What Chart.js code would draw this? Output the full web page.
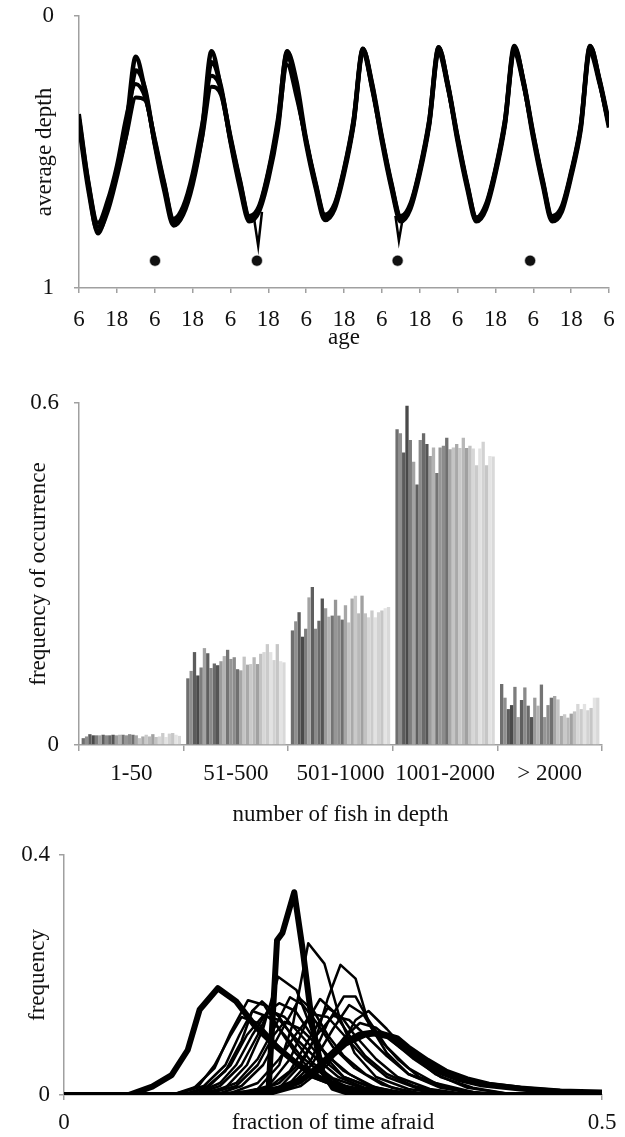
<!DOCTYPE html>
<html>
<head>
<meta charset="utf-8">
<title>Fish depth figure</title>
<script src="https://cdn.jsdelivr.net/npm/chart.js@4.4.1/dist/chart.umd.min.js"></script>
<style>
    html, body { margin: 0; padding: 0; background: #fff; }
    .panel { position: absolute; left: 0; width: 625px; }
    #depthPanel { top: 0; height: 352px; }
    #groupPanel { top: 352px; height: 483px; }
    #afraidPanel { top: 835px; height: 302px; }
</style>
</head>
<body>
<div class="panel" id="depthPanel"><canvas id="depthChart"></canvas></div>
<div class="panel" id="groupPanel"><canvas id="groupChart"></canvas></div>
<div class="panel" id="afraidPanel"><canvas id="afraidChart"></canvas></div>

<script>
// ---- Top panel: average depth against age (hours since 6:00) ----
const ageHours = [0, 3, 6, 9, 12, 15, 18, 21, 24, 27, 30, 33, 36, 39, 42, 45, 48, 51, 54, 57,
    60, 63, 66, 69, 72, 75, 78, 81, 84, 87, 90, 93, 96, 99, 102, 105, 108, 111, 114, 117,
    120, 123, 126, 129, 132, 135, 138, 141, 144, 147, 150, 153, 156, 159, 162, 165, 168];
const ageTicks = [6, 18];

const depthRunA = [0.38, 0.62, 0.775, 0.70, 0.57, 0.40, 0.15, 0.28, 0.46, 0.62, 0.755, 0.72, 0.60, 0.42, 0.13, 0.27, 0.45, 0.61, 0.745, 0.71,
    0.58, 0.40, 0.13, 0.28, 0.46, 0.62, 0.74, 0.70, 0.57, 0.39, 0.12, 0.27, 0.45, 0.62, 0.745, 0.70, 0.57, 0.39, 0.115, 0.26,
    0.45, 0.62, 0.745, 0.70, 0.57, 0.39, 0.11, 0.25, 0.44, 0.61, 0.745, 0.71, 0.58, 0.41, 0.11, 0.24, 0.40];
const depthRunB = [0.40, 0.64, 0.79, 0.72, 0.59, 0.43, 0.20, 0.27, 0.47, 0.64, 0.77, 0.73, 0.62, 0.44, 0.17, 0.26, 0.46, 0.63, 0.755, 0.72,
    0.60, 0.42, 0.15, 0.27, 0.47, 0.63, 0.75, 0.71, 0.58, 0.40, 0.13, 0.26, 0.46, 0.63, 0.755, 0.71, 0.58, 0.40, 0.13, 0.26,
    0.46, 0.63, 0.755, 0.71, 0.58, 0.40, 0.125, 0.25, 0.45, 0.62, 0.755, 0.72, 0.59, 0.42, 0.125, 0.24, 0.41];
const depthRunC = [0.36, 0.61, 0.76, 0.68, 0.55, 0.37, 0.25, 0.30, 0.45, 0.61, 0.745, 0.70, 0.58, 0.40, 0.22, 0.27, 0.44, 0.60, 0.735, 0.70,
    0.57, 0.38, 0.13, 0.24, 0.45, 0.61, 0.73, 0.69, 0.56, 0.38, 0.12, 0.25, 0.44, 0.61, 0.735, 0.69, 0.56, 0.38, 0.115, 0.25,
    0.44, 0.61, 0.74, 0.69, 0.56, 0.38, 0.115, 0.24, 0.43, 0.60, 0.735, 0.70, 0.57, 0.40, 0.11, 0.23, 0.39];
const depthRunD = [0.39, 0.63, 0.80, 0.71, 0.58, 0.44, 0.30, 0.31, 0.47, 0.63, 0.76, 0.72, 0.61, 0.45, 0.26, 0.29, 0.46, 0.62, 0.75, 0.71,
    0.59, 0.41, 0.18, 0.30, 0.46, 0.62, 0.745, 0.70, 0.57, 0.40, 0.14, 0.27, 0.45, 0.62, 0.75, 0.70, 0.57, 0.40, 0.14, 0.27,
    0.45, 0.62, 0.75, 0.70, 0.57, 0.40, 0.14, 0.26, 0.44, 0.61, 0.75, 0.71, 0.58, 0.41, 0.14, 0.25, 0.40];

// short dips of single runs
const dipHoursA = [55.5, 56.8, 58];
const dipDepthA = [0.745, 0.845, 0.72];
const dipHoursB = [100.3, 101.4, 102.6];
const dipDepthB = [0.735, 0.826, 0.745];

// dots under the curves
const dotHours = [24.1, 56.4, 101, 143];
const dotDepth = [0.9, 0.9, 0.9, 0.9];

// ---- Middle panel: frequency of group size, one bar per run ----
const fishGroups = ['1-50', '51-500', '501-1000', '1001-2000', '> 2000'];
const fish1to50 = [0.012, 0.015, 0.019, 0.017, 0.017, 0.017, 0.018, 0.017, 0.017, 0.018, 0.017, 0.018, 0.018, 0.017, 0.019,
    0.018, 0.017, 0.012, 0.015, 0.018, 0.015, 0.019, 0.014, 0.015, 0.021, 0.014, 0.020, 0.021, 0.018, 0.016];
const fish51to500 = [0.117, 0.130, 0.163, 0.122, 0.136, 0.170, 0.161, 0.135, 0.143, 0.140, 0.147, 0.156, 0.167, 0.151, 0.154,
    0.133, 0.131, 0.155, 0.141, 0.142, 0.154, 0.142, 0.160, 0.163, 0.177, 0.163, 0.149, 0.177, 0.147, 0.145];
const fish501to1000 = [0.201, 0.217, 0.233, 0.190, 0.204, 0.259, 0.277, 0.204, 0.218, 0.257, 0.240, 0.225, 0.227, 0.255, 0.227,
    0.220, 0.245, 0.215, 0.257, 0.262, 0.231, 0.262, 0.231, 0.224, 0.236, 0.224, 0.233, 0.236, 0.240, 0.242];
const fish1001to2000 = [0.554, 0.547, 0.513, 0.595, 0.535, 0.497, 0.457, 0.535, 0.547, 0.528, 0.507, 0.522, 0.477, 0.522, 0.525,
    0.539, 0.519, 0.522, 0.528, 0.521, 0.539, 0.521, 0.525, 0.520, 0.491, 0.520, 0.532, 0.491, 0.507, 0.506];
const fishOver2000 = [0.107, 0.083, 0.063, 0.070, 0.102, 0.049, 0.079, 0.101, 0.069, 0.049, 0.083, 0.069, 0.106, 0.049, 0.070,
    0.083, 0.086, 0.080, 0.051, 0.054, 0.048, 0.055, 0.059, 0.072, 0.063, 0.072, 0.061, 0.065, 0.083, 0.083];

// ---- Bottom panel: distributions of the fraction of time afraid ([x, y] pairs) ----
const afraidThickA = [[0, 0], [0.06, 0], [0.082, 0.014], [0.1, 0.033], [0.115, 0.075], [0.126, 0.142], [0.143, 0.178],
    [0.16, 0.156], [0.178, 0.114], [0.197, 0.081], [0.216, 0.053], [0.234, 0.031], [0.257, 0.014], [0.286, 0.004], [0.31, 0], [0.5, 0]];
const afraidThickB = [[0, 0], [0.17, 0], [0.19, 0.005], [0.198, 0.258], [0.203, 0.27], [0.214, 0.338], [0.222, 0.24],
    [0.231, 0.113], [0.24, 0.04], [0.25, 0.012], [0.265, 0.003], [0.29, 0], [0.5, 0]];
const afraidThickC = [[0, 0], [0.145, 0], [0.182, 0.004], [0.2, 0.011], [0.223, 0.028], [0.238, 0.05], [0.257, 0.083],
    [0.275, 0.101], [0.286, 0.104], [0.301, 0.098], [0.312, 0.083], [0.331, 0.059], [0.349, 0.039], [0.368, 0.026],
    [0.387, 0.018], [0.424, 0.011], [0.461, 0.006], [0.5, 0.004]];
const afraidThickD = [[0, 0], [0.15, 0], [0.19, 0.006], [0.21, 0.015], [0.23, 0.035], [0.245, 0.058], [0.262, 0.085],
    [0.28, 0.1], [0.295, 0.103], [0.31, 0.095], [0.32, 0.08], [0.338, 0.058], [0.355, 0.04], [0.375, 0.027],
    [0.395, 0.018], [0.43, 0.01], [0.47, 0.005], [0.5, 0.003]];

const afraidThin01 = [[0, 0], [0.1, 0], [0.12, 0.01], [0.14, 0.045], [0.155, 0.105], [0.171, 0.158], [0.186, 0.15], [0.2, 0.11], [0.215, 0.07], [0.23, 0.04], [0.25, 0.018], [0.28, 0.005], [0.32, 0], [0.5, 0]];
const afraidThin02 = [[0, 0], [0.11, 0], [0.13, 0.01], [0.15, 0.04], [0.165, 0.09], [0.175, 0.14], [0.184, 0.156], [0.2, 0.13], [0.215, 0.09], [0.23, 0.055], [0.25, 0.028], [0.28, 0.01], [0.33, 0], [0.5, 0]];
const afraidThin03 = [[0, 0], [0.12, 0], [0.15, 0.012], [0.17, 0.05], [0.185, 0.11], [0.199, 0.197], [0.216, 0.175], [0.23, 0.11], [0.245, 0.06], [0.26, 0.03], [0.29, 0.01], [0.33, 0], [0.5, 0]];
const afraidThin04 = [[0, 0], [0.15, 0], [0.18, 0.01], [0.2, 0.05], [0.213, 0.12], [0.227, 0.253], [0.242, 0.219], [0.256, 0.13], [0.27, 0.07], [0.29, 0.03], [0.32, 0.01], [0.36, 0], [0.5, 0]];
const afraidThin05 = [[0, 0], [0.17, 0], [0.2, 0.012], [0.22, 0.05], [0.235, 0.1], [0.245, 0.16], [0.257, 0.217], [0.271, 0.194], [0.283, 0.12], [0.3, 0.07], [0.32, 0.035], [0.35, 0.012], [0.39, 0], [0.5, 0]];
const afraidThin06 = [[0, 0], [0.18, 0], [0.21, 0.02], [0.23, 0.06], [0.245, 0.12], [0.26, 0.164], [0.271, 0.164], [0.283, 0.125], [0.3, 0.08], [0.32, 0.045], [0.345, 0.02], [0.38, 0.005], [0.42, 0], [0.5, 0]];
const afraidThin07 = [[0, 0], [0.12, 0], [0.145, 0.015], [0.165, 0.05], [0.18, 0.1], [0.19, 0.14], [0.2, 0.153], [0.215, 0.14], [0.23, 0.1], [0.245, 0.065], [0.265, 0.035], [0.29, 0.012], [0.33, 0], [0.5, 0]];
const afraidThin08 = [[0, 0], [0.14, 0], [0.165, 0.015], [0.185, 0.05], [0.2, 0.1], [0.219, 0.161], [0.232, 0.14], [0.245, 0.1], [0.26, 0.065], [0.28, 0.035], [0.305, 0.012], [0.34, 0], [0.5, 0]];
const afraidThin09 = [[0, 0], [0.16, 0], [0.19, 0.015], [0.21, 0.06], [0.225, 0.12], [0.238, 0.16], [0.25, 0.14], [0.265, 0.1], [0.28, 0.065], [0.3, 0.035], [0.325, 0.015], [0.36, 0], [0.5, 0]];
const afraidThin10 = [[0, 0], [0.11, 0], [0.135, 0.015], [0.155, 0.05], [0.17, 0.1], [0.185, 0.132], [0.2, 0.125], [0.215, 0.095], [0.235, 0.06], [0.255, 0.03], [0.28, 0.012], [0.32, 0], [0.5, 0]];
const afraidThin11 = [[0, 0], [0.13, 0], [0.16, 0.02], [0.18, 0.06], [0.195, 0.11], [0.21, 0.163], [0.222, 0.15], [0.235, 0.12], [0.25, 0.08], [0.27, 0.045], [0.295, 0.018], [0.33, 0], [0.5, 0]];
const afraidThin12 = [[0, 0], [0.17, 0], [0.2, 0.02], [0.22, 0.055], [0.235, 0.1], [0.25, 0.132], [0.265, 0.125], [0.28, 0.1], [0.3, 0.065], [0.32, 0.035], [0.35, 0.014], [0.39, 0], [0.5, 0]];
const afraidThin13 = [[0, 0], [0.19, 0], [0.22, 0.02], [0.24, 0.05], [0.26, 0.095], [0.275, 0.12], [0.29, 0.112], [0.305, 0.09], [0.325, 0.06], [0.35, 0.03], [0.38, 0.012], [0.42, 0], [0.5, 0]];
const afraidThin14 = [[0, 0], [0.1, 0], [0.125, 0.015], [0.14, 0.05], [0.155, 0.1], [0.165, 0.13], [0.18, 0.12], [0.195, 0.09], [0.21, 0.06], [0.23, 0.03], [0.26, 0.01], [0.3, 0], [0.5, 0]];
const afraidThin15 = [[0, 0], [0.15, 0], [0.18, 0.02], [0.2, 0.06], [0.215, 0.1], [0.23, 0.135], [0.245, 0.13], [0.26, 0.1], [0.28, 0.06], [0.3, 0.03], [0.33, 0.01], [0.37, 0], [0.5, 0]];
const afraidThin16 = [[0, 0], [0.12, 0], [0.145, 0.02], [0.16, 0.05], [0.175, 0.1], [0.19, 0.142], [0.205, 0.13], [0.22, 0.1], [0.24, 0.06], [0.26, 0.03], [0.29, 0.01], [0.33, 0], [0.5, 0]];
const afraidThin17 = [[0, 0], [0.18, 0], [0.21, 0.015], [0.23, 0.05], [0.25, 0.11], [0.265, 0.15], [0.278, 0.135], [0.29, 0.1], [0.31, 0.06], [0.33, 0.03], [0.36, 0.01], [0.4, 0], [0.5, 0]];
const afraidThin18 = [[0, 0], [0.16, 0], [0.19, 0.012], [0.21, 0.04], [0.23, 0.1], [0.245, 0.145], [0.258, 0.13], [0.27, 0.1], [0.29, 0.06], [0.31, 0.03], [0.34, 0.01], [0.38, 0], [0.5, 0]];
const afraidThin19 = [[0, 0], [0.13, 0], [0.16, 0.015], [0.18, 0.05], [0.195, 0.1], [0.205, 0.122], [0.22, 0.11], [0.24, 0.075], [0.26, 0.04], [0.285, 0.015], [0.32, 0], [0.5, 0]];
const afraidThin20 = [[0, 0], [0.19, 0], [0.22, 0.015], [0.245, 0.05], [0.26, 0.09], [0.271, 0.125], [0.283, 0.14], [0.3, 0.11], [0.32, 0.07], [0.345, 0.035], [0.375, 0.012], [0.42, 0], [0.5, 0]];
const afraidThin21 = [[0, 0], [0.1, 0], [0.13, 0.015], [0.15, 0.05], [0.163, 0.1], [0.175, 0.14], [0.19, 0.13], [0.205, 0.1], [0.22, 0.065], [0.24, 0.035], [0.265, 0.012], [0.3, 0], [0.5, 0]];

// Shared look
const axisGray = '#a0a0a0';
const textBlack = '#111';
Chart.defaults.font.family = '"Liberation Serif", "Times New Roman", serif';
Chart.defaults.font.size = 23;
Chart.defaults.color = textBlack;

const barShades = ['#6f6f6f', '#8f8f8f', '#5c5c5c', '#4a4a4a', '#7d7d7d', '#a3a3a3', '#5f5f5f', '#8a8a8a', '#6a6a6a', '#555555',
    '#9b9b9b', '#b3b3b3', '#747474', '#969696', '#8c8c8c', '#707070', '#a6a6a6', '#c4c4c4', '#a9a9a9', '#c9c9c9',
    '#b8b8b8', '#a1a1a1', '#c2c2c2', '#d7d7d7', '#cbcbcb', '#e2e2e2', '#d2d2d2', '#c6c6c6', '#e4e4e4', '#d9d9d9'];

function axis(extra) {
    return Object.assign({
        border: { display: true, color: axisGray, width: 1.5 },
        grid: { drawOnChartArea: false, color: axisGray, lineWidth: 1.5, tickLength: 5 }
    }, extra);
}

// fixed axis sizes, and no extra room asked for the end labels
const fixHeight = h => s => { s.height = h; s.paddingLeft = 0; s.paddingRight = 0; };
const fixWidth = w => s => { s.width = w; s.paddingTop = 0; s.paddingBottom = 0; };

const quietPlugins = { legend: { display: false }, tooltip: { enabled: false } };

// Depth Chart
const toPoints = (xs, ys) => xs.map((x, i) => ({ x: x, y: ys[i] }));
const runLine = (ys, width) => ({
    type: 'line',
    data: toPoints(ageHours, ys),
    borderColor: '#000',
    borderWidth: width,
    pointRadius: 0,
    cubicInterpolationMode: 'monotone',
    borderJoinStyle: 'round'
});

new Chart(document.getElementById('depthChart'), {
    type: 'line',
    data: {
        datasets: [
            runLine(depthRunA, 4.5),
            runLine(depthRunB, 4.5),
            runLine(depthRunC, 4),
            runLine(depthRunD, 4),
            { type: 'line', data: toPoints(dipHoursA, dipDepthA), borderColor: '#000', borderWidth: 2.5, pointRadius: 0 },
            { type: 'line', data: toPoints(dipHoursB, dipDepthB), borderColor: '#000', borderWidth: 2.5, pointRadius: 0 },
            { type: 'scatter', data: toPoints(dotHours, dotDepth), showLine: false, pointRadius: 5,
              backgroundColor: '#111', borderColor: 'rgba(0,0,0,0.35)', borderWidth: 1.5 }
        ]
    },
    options: {
        responsive: true,
        maintainAspectRatio: false,
        animation: false,
        devicePixelRatio: 1,
        layout: { padding: { top: 16, right: 16, left: 0, bottom: 0 } },
        plugins: quietPlugins,
        scales: {
            x: axis({
                type: 'linear', min: 0, max: 168,
                ticks: { stepSize: 12, autoSkip: false, maxRotation: 0, padding: 13,
                    callback: v => ageTicks[(v / 12) % 2] },
                title: { display: true, text: 'age', padding: { top: 0, bottom: 0 } },
                afterFit: fixHeight(64)
            }),
            y: axis({
                type: 'linear', min: 0, max: 1, reverse: true,
                ticks: { stepSize: 1, padding: 20 },
                title: { display: true, text: 'average depth', padding: { top: 31, bottom: 0 } },
                afterFit: fixWidth(79)
            })
        }
    }
});

// Group size Chart
const groupValues = [fish1to50, fish51to500, fish501to1000, fish1001to2000, fishOver2000];
const barDatasets = barShades.map((shade, run) => ({
    data: groupValues.map(g => g[run]),
    backgroundColor: shade,
    borderWidth: 0,
    barPercentage: 1,
    categoryPercentage: 0.95
}));

new Chart(document.getElementById('groupChart'), {
    type: 'bar',
    data: { labels: fishGroups, datasets: barDatasets },
    options: {
        responsive: true,
        maintainAspectRatio: false,
        animation: false,
        devicePixelRatio: 1,
        layout: { padding: { top: 51, right: 23, left: 0, bottom: 0 } },
        plugins: quietPlugins,
        scales: {
            x: axis({
                grid: { offset: true, drawOnChartArea: false, color: axisGray, lineWidth: 1.5, tickLength: 6 },
                ticks: { autoSkip: false, maxRotation: 0, padding: 9 },
                title: { display: true, text: 'number of fish in depth', padding: { top: 0, bottom: 6 } },
                afterFit: fixHeight(90)
            }),
            y: axis({
                min: 0, max: 0.6,
                ticks: { stepSize: 0.6, padding: 15 },
                title: { display: true, text: 'frequency of occurrence', padding: { top: 25, bottom: 0 } },
                afterFit: fixWidth(79)
            })
        }
    }
});

// Fear distribution Chart
const curve = (pairs, width) => ({
    data: pairs.map(p => ({ x: p[0], y: p[1] })),
    borderColor: '#000',
    borderWidth: width,
    pointRadius: 0,
    tension: 0,
    borderJoinStyle: 'round'
});
const thinCurves = [afraidThin01, afraidThin02, afraidThin03, afraidThin04, afraidThin05, afraidThin06, afraidThin07,
    afraidThin08, afraidThin09, afraidThin10, afraidThin11, afraidThin12, afraidThin13, afraidThin14, afraidThin15,
    afraidThin16, afraidThin17, afraidThin18, afraidThin19, afraidThin20, afraidThin21];

new Chart(document.getElementById('afraidChart'), {
    type: 'line',
    data: {
        datasets: thinCurves.map(c => curve(c, 2.5)).concat([
            curve(afraidThickA, 6),
            curve(afraidThickB, 6),
            curve(afraidThickC, 6),
            curve(afraidThickD, 5)
        ])
    },
    options: {
        responsive: true,
        maintainAspectRatio: false,
        animation: false,
        devicePixelRatio: 1,
        layout: { padding: { top: 20, right: 23, left: 0, bottom: 0 } },
        plugins: quietPlugins,
        scales: {
            x: axis({
                type: 'linear', min: 0, max: 0.5,
                ticks: { stepSize: 0.5, autoSkip: false, maxRotation: 0, padding: 9 },
                title: { display: true, text: 'fraction of time afraid', padding: { top: 0, bottom: 0 } },
                afterFit: fixHeight(42)
            }),
            y: axis({
                type: 'linear', min: 0, max: 0.4,
                ticks: { stepSize: 0.4, padding: 9 },
                title: { display: true, text: 'frequency', padding: { top: 24, bottom: 0 } },
                afterFit: fixWidth(64)
            })
        }
    }
});
</script>
</body>
</html>
